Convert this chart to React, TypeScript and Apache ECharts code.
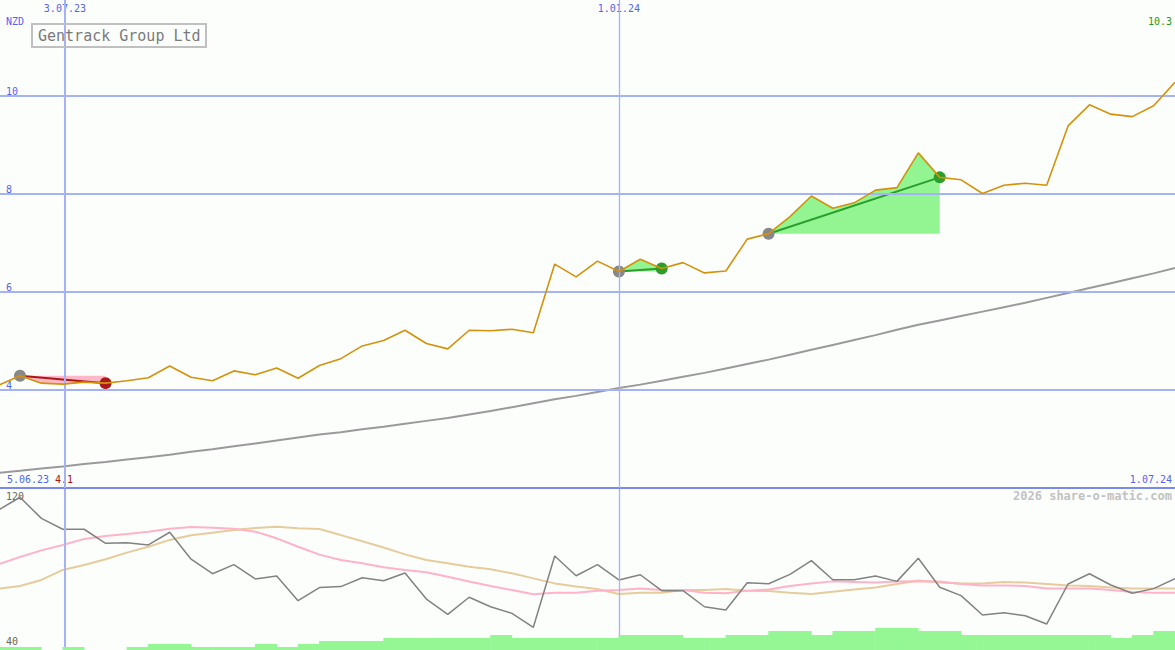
import React, { useEffect, useRef } from "react";
import * as echarts from "echarts";

// index of the first weekly point (points are at x = week index)
const FIRST_K = -1;
const X_MIN = -0.935;
const X_MAX = 54;
const Y_MIN = 2;
const Y_MAX = 11.96;

const chartTitle = "Gentrack Group Ltd";
const currency = "NZD";
const startDate = "5.06.23";
const endDate = "1.07.24";
const watermark = "2026 share-o-matic.com";

const dateMarks = [2.1, 28];
const dateLabels = ["3.07.23", "1.01.24"];
const priceTicks = [4, 6, 8, 10];

const price = [4.10, 4.29, 4.14, 4.12, 4.16, 4.14, 4.19, 4.25, 4.49, 4.26, 4.19, 4.39, 4.31, 4.45, 4.24, 4.50, 4.64, 4.90, 5.01, 5.22, 4.95, 4.84, 5.22, 5.21, 5.24, 5.17, 6.57, 6.31, 6.63, 6.42, 6.67, 6.48, 6.60, 6.39, 6.43, 7.08, 7.19, 7.54, 7.96, 7.71, 7.82, 8.08, 8.13, 8.84, 8.34, 8.29, 8.01, 8.18, 8.22, 8.18, 9.39, 9.82, 9.63, 9.58, 9.80, 10.28];

const longAverage = [2.31, 2.35, 2.40, 2.44, 2.49, 2.53, 2.58, 2.63, 2.68, 2.74, 2.79, 2.85, 2.91, 2.97, 3.03, 3.09, 3.14, 3.20, 3.25, 3.31, 3.37, 3.43, 3.50, 3.57, 3.65, 3.73, 3.81, 3.88, 3.96, 4.04, 4.11, 4.19, 4.27, 4.35, 4.44, 4.53, 4.62, 4.72, 4.82, 4.92, 5.02, 5.12, 5.23, 5.33, 5.42, 5.51, 5.60, 5.69, 5.78, 5.88, 5.98, 6.08, 6.18, 6.28, 6.38, 6.49];

const momentum = [109.6, 115.9, 105.4, 100.0, 100.0, 93.0, 93.3, 92.2, 98.5, 85.1, 77.9, 82.4, 75.3, 76.8, 64.5, 71.0, 71.5, 75.9, 74.4, 78.3, 65.3, 57.7, 66.2, 61.5, 58.2, 51.3, 86.7, 76.9, 82.4, 74.8, 77.4, 69.5, 69.5, 61.5, 59.9, 73.4, 72.9, 77.6, 84.4, 74.9, 74.9, 76.8, 74.1, 85.6, 71.2, 67.0, 57.4, 58.5, 57.0, 52.9, 72.8, 77.9, 72.3, 68.2, 70.5, 75.4];

const pinkAverage = [82.6, 86.2, 89.5, 92.2, 95.2, 96.6, 97.6, 98.8, 100.3, 101.1, 100.8, 100.3, 98.8, 95.5, 91.3, 87.4, 84.7, 83.1, 81.1, 79.8, 78.6, 76.4, 74.0, 71.8, 69.8, 67.7, 68.5, 68.5, 69.5, 69.8, 70.5, 69.8, 69.8, 68.5, 68.2, 69.5, 70.1, 71.8, 73.1, 74.1, 73.8, 73.5, 74.0, 74.1, 74.0, 72.8, 72.1, 72.1, 71.8, 70.6, 70.6, 70.5, 69.8, 68.8, 68.5, 68.5];

const tanAverage = [70.5, 71.8, 74.8, 79.8, 82.2, 85.1, 88.4, 91.3, 94.7, 97.0, 98.3, 99.6, 100.6, 101.3, 100.5, 100.1, 97.1, 94.0, 90.9, 87.5, 84.7, 83.1, 81.4, 80.1, 78.1, 75.6, 73.1, 71.5, 70.3, 67.8, 68.5, 68.5, 69.8, 69.8, 70.3, 69.5, 69.3, 68.5, 67.8, 69.0, 70.1, 71.1, 72.8, 74.5, 73.5, 73.1, 73.1, 73.8, 73.5, 72.8, 72.1, 71.8, 71.1, 70.5, 70.5, 70.5];

// volume for each week interval starting at week index FIRST_K
const volume = [3, 3, 0, 3, 0, 0, 3, 6, 6, 3, 3, 3, 6, 3, 6, 9, 9, 9, 12, 12, 12, 12, 12, 15, 12, 12, 12, 12, 12, 15, 15, 15, 12, 12, 15, 15, 19, 19, 15, 19, 19, 22, 22, 19, 19, 15, 15, 15, 15, 15, 15, 15, 12, 15, 19];

// trend annotations (week indices)
const trendStart = [0, 28, 35];
const trendEnd = [4, 30, 43];
const trendUp = [false, true, true];

const MONO = "DejaVu Sans Mono";
const BLUE = "#5464ee";
const GRID = "#a6b2f6";

function pts(arr: number[]) {
  return arr.map((v, i) => [i + FIRST_K, v]);
}
function at(k: number) {
  return price[k - FIRST_K];
}

export default function App() {
  const ref = useRef<HTMLDivElement>(null);
  useEffect(() => {
    document.body.style.margin = "0";
    const chart = echarts.init(ref.current!, null, { renderer: "svg" });
    const maxP = Math.max(...price).toFixed(1);
    const minP = Math.min(...price).toFixed(1);

    const trendSeries: any[] = [];
    trendStart.forEach((s, t) => {
      const e = trendEnd[t];
      const up = trendUp[t];
      const slice: number[][] = [];
      for (let k = s; k <= e; k++) slice.push([k, at(k)]);
      trendSeries.push({
        type: "line",
        xAxisIndex: 0,
        yAxisIndex: 0,
        data: slice,
        symbol: "none",
        lineStyle: { width: 0, opacity: 0 },
        areaStyle: { color: up ? "#92f592" : "#ffb8c8", opacity: 1, origin: at(s) },
        z: 3,
        silent: true,
      });
      trendSeries.push({
        type: "line",
        xAxisIndex: 0,
        yAxisIndex: 0,
        data: [
          { value: [s, at(s)], itemStyle: { color: "#888888" } },
          { value: [e, at(e)], itemStyle: { color: up ? "#2a9e2a" : "#aa1a1a" } },
        ],
        symbol: "circle",
        symbolSize: 12,
        lineStyle: { color: up ? "#2a9e2a" : "#aa1a1a", width: 2 },
        z: 4,
        silent: true,
      });
    });

    const vLines = {
      silent: true,
      symbol: "none",
      label: { show: false },
      data: dateMarks.map((d, i) => ({ xAxis: d, lineStyle: { color: GRID, width: i === 0 ? 2 : 1.3, type: "solid" } })),
    };

    const option: any = {
      animation: false,
      backgroundColor: "#fcfefc",
      title: {
        text: chartTitle,
        left: 32,
        top: 24,
        padding: [4, 6],
        borderColor: "#c0c0c0",
        borderWidth: 2,
        textStyle: { fontFamily: MONO, fontSize: 15, fontWeight: "normal", color: "#7a7a7a" },
      },
      grid: [
        { left: 0, right: 0, top: 0, height: 488 },
        { left: 0, right: 0, top: 489, height: 161 },
      ],
      xAxis: [
        {
          gridIndex: 0,
          type: "value",
          min: X_MIN,
          max: X_MAX,
          position: "top",
          axisLine: { show: false },
          axisTick: { show: false },
          splitLine: { show: false },
          axisLabel: {
            inside: true,
            margin: 3,
            customValues: dateMarks,
            formatter: (v: number) => {
              const i = dateMarks.findIndex((d) => Math.abs(d - v) < 1e-6);
              return i >= 0 ? dateLabels[i] : "";
            },
            color: BLUE,
            fontSize: 10,
            fontFamily: MONO,
          },
        },
        {
          gridIndex: 0,
          type: "value",
          min: X_MIN,
          max: X_MAX,
          position: "bottom",
          axisLine: { show: true, onZero: false, lineStyle: { color: "#7a88f0", width: 2 } },
          axisTick: { show: false },
          axisLabel: { show: false },
          splitLine: { show: false },
        },
        { gridIndex: 1, type: "value", min: X_MIN, max: X_MAX, show: false },
      ],
      yAxis: [
        {
          gridIndex: 0,
          type: "value",
          min: Y_MIN,
          max: Y_MAX,
          axisLine: { show: false },
          axisTick: { show: false, customValues: priceTicks },
          splitLine: { show: false },
          axisLabel: {
            inside: true,
            margin: 6,
            verticalAlign: "bottom",
            customValues: priceTicks,
            formatter: (v: number) => String(v),
            color: BLUE,
            fontSize: 10,
            fontFamily: MONO,
          },
        },
        {
          gridIndex: 1,
          type: "value",
          min: 40,
          max: 120,
          interval: 40,
          axisLine: { show: false },
          axisTick: { show: false },
          splitLine: { show: false },
          axisLabel: {
            inside: true,
            margin: 6,
            formatter: (v: number) => (v === 120 ? "{a|120}" : v === 40 ? "{b|40}" : ""),
            rich: {
              a: { padding: [14, 0, 0, 0], color: "#666666", fontSize: 10, fontFamily: MONO },
              b: { padding: [0, 0, 18, 0], color: "#666666", fontSize: 10, fontFamily: MONO },
            },
          },
        },
        { gridIndex: 1, type: "value", min: 0, max: 161, show: false },
      ],
      graphic: [
        { type: "text", x: 6, y: 21, style: { text: currency, fill: BLUE, font: `10px '${MONO}'`, verticalAlign: "middle" } },
        { type: "text", x: 1172, y: 21, style: { text: maxP, fill: "#229922", font: `10px '${MONO}'`, align: "right", verticalAlign: "middle" } },
        { type: "text", x: 7, y: 479, style: { text: startDate, fill: BLUE, font: `10px '${MONO}'`, verticalAlign: "middle" } },
        { type: "text", x: 55, y: 479, style: { text: minP, fill: "#aa1111", font: `10px '${MONO}'`, verticalAlign: "middle" } },
        { type: "text", x: 1172, y: 479, style: { text: endDate, fill: BLUE, font: `10px '${MONO}'`, align: "right", verticalAlign: "middle" } },
        { type: "text", x: 1172, y: 496, style: { text: watermark, fill: "#c2c2c2", font: `bold 12px '${MONO}'`, align: "right", verticalAlign: "middle" } },
      ],
      series: [
        {
          type: "line",
          xAxisIndex: 0,
          yAxisIndex: 0,
          data: pts(longAverage),
          symbol: "none",
          lineStyle: { color: "#9a9a9a", width: 2 },
          z: 2,
          silent: true,
          markLine: {
            silent: true,
            symbol: "none",
            label: { show: false },
            data: [
              ...dateMarks.map((d, i) => ({ xAxis: d, lineStyle: { color: GRID, width: i === 0 ? 2 : 1.3, type: "solid" } })),
              ...priceTicks.map((p) => ({ yAxis: p, lineStyle: { color: GRID, width: 2, type: "solid" } })),
            ],
          },
        },
        ...trendSeries,
        {
          type: "line",
          xAxisIndex: 0,
          yAxisIndex: 0,
          data: pts(price),
          symbol: "none",
          lineStyle: { color: "#d4920c", width: 1.6 },
          z: 6,
          silent: true,
        },
        {
          type: "bar",
          xAxisIndex: 2,
          yAxisIndex: 2,
          data: volume.map((v, i) => [i + FIRST_K + 0.5, v]),
          barWidth: 22,
          itemStyle: { color: "#94f794" },
          z: 5,
          silent: true,
        },
        {
          type: "line",
          xAxisIndex: 2,
          yAxisIndex: 1,
          data: pts(tanAverage),
          symbol: "none",
          lineStyle: { color: "#e6cc9c", width: 2 },
          z: 2,
          silent: true,
          markLine: vLines,
        },
        {
          type: "line",
          xAxisIndex: 2,
          yAxisIndex: 1,
          data: pts(pinkAverage),
          symbol: "none",
          lineStyle: { color: "#ffb2c8", width: 2 },
          z: 3,
          silent: true,
        },
        {
          type: "line",
          xAxisIndex: 2,
          yAxisIndex: 1,
          data: pts(momentum),
          symbol: "none",
          lineStyle: { color: "#828282", width: 1.5 },
          z: 4,
          silent: true,
        },
      ],
    };
    chart.setOption(option);
    return () => chart.dispose();
  }, []);
  return <div ref={ref} style={{ position: "fixed", left: 0, top: 0, width: 1175, height: 650 }} />;
}
